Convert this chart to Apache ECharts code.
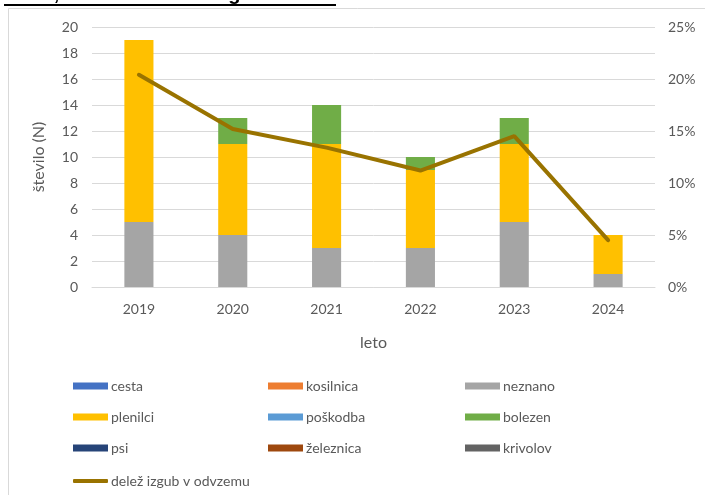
<!DOCTYPE html>
<html>
<head>
<meta charset="utf-8">
<script src="https://cdn.jsdelivr.net/npm/echarts@6/dist/echarts.min.js"></script>
<style>
html,body{margin:0;padding:0;background:#fff;}
#c{width:705px;height:495px;}
</style>
</head>
<body>
<div id="c"></div>
<script>
const years = ['2019','2020','2021','2022','2023','2024'];
const cesta     = [0,0,0,0,0,0];
const kosilnica = [0,0,0,0,0,0];
const neznano   = [5,4,3,3,5,1];
const plenilci  = [14,7,8,6,6,3];
const poskodba  = [0,0,0,0,0,0];
const bolezen   = [0,2,3,1,2,0];
const psi       = [0,0,0,0,0,0];
const zeleznica = [0,0,0,0,0,0];
const krivolov  = [0,0,0,0,0,0];
const delez     = [0.204,0.152,0.134,0.112,0.145,0.045];
const titleText = 'Vidra, delež in število izgub';

const FONT = 'Lato';
const TXT = '#595959';

const barDefs = [
  ['cesta', cesta, '#4472C4'],
  ['kosilnica', kosilnica, '#ED7D31'],
  ['neznano', neznano, '#A5A5A5'],
  ['plenilci', plenilci, '#FFC000'],
  ['poškodba', poskodba, '#5B9BD5'],
  ['bolezen', bolezen, '#70AD47'],
  ['psi', psi, '#264478'],
  ['železnica', zeleznica, '#9E480E'],
  ['krivolov', krivolov, '#636363']
];

const series = barDefs.map(([name, data, color]) => ({
  name, type: 'bar', stack: 'all', data, barWidth: '31%',
  itemStyle: {color}, emphasis: {disabled: true}
}));
series.push({
  name: 'delež izgub v odvzemu', type: 'line', yAxisIndex: 1, data: delez,
  symbol: 'none', lineStyle: {color: '#997300', width: 4, cap: 'round'}, itemStyle: {color: '#997300'}
});

const legendBase = {
  orient: 'vertical', itemWidth: 35, itemHeight: 7, itemGap: 17, icon: 'rect',
  textStyle: {color: TXT, fontFamily: FONT, fontSize: 14, padding: [0,0,0,-2]},
  selectedMode: false
};

const chart = echarts.init(document.getElementById('c'));
chart.setOption({
  animation: false,
  graphic: [
    {type: 'rect', shape: {x: 8.5, y: 8.5, width: 720, height: 520}, style: {fill: 'none', stroke: '#d9d9d9', lineWidth: 1}, z: -1},
    {type: 'text', left: 4, top: -15.5, style: {text: titleText, font: 'bold 20px "Liberation Sans"', fill: '#000'}},
    {type: 'line', shape: {x1: 4, y1: 5, x2: 336, y2: 5}, style: {stroke: '#000', lineWidth: 2}}
  ],
  grid: {left: 92, right: 50, top: 27, bottom: 208},
  legend: [
    Object.assign({left: 68, top: 374, data: ['cesta', 'plenilci', 'psi']}, legendBase),
    Object.assign({left: 263, top: 374, data: ['kosilnica', 'poškodba', 'železnica']}, legendBase),
    Object.assign({left: 460, top: 374, data: ['neznano', 'bolezen', 'krivolov']}, legendBase),
    Object.assign({}, legendBase, {left: 68, top: 469, itemHeight: 4, icon: 'roundRect', data: ['delež izgub v odvzemu']})
  ],
  xAxis: {
    type: 'category', data: years,
    name: 'leto', nameLocation: 'middle', nameGap: 48,
    nameTextStyle: {color: TXT, fontFamily: FONT, fontSize: 16},
    axisLine: {lineStyle: {color: '#d9d9d9'}}, axisTick: {show: false},
    axisLabel: {color: TXT, fontFamily: FONT, fontSize: 14, margin: 15}
  },
  yAxis: [
    {
      type: 'value', min: 0, max: 20, interval: 2,
      name: 'število (N)', nameLocation: 'middle', nameGap: 45,
      nameTextStyle: {color: TXT, fontFamily: FONT, fontSize: 16},
      axisLabel: {color: TXT, fontFamily: FONT, fontSize: 14, margin: 14},
      splitLine: {lineStyle: {color: '#d9d9d9', width: 1}},
      axisLine: {show: false}, axisTick: {show: false}
    },
    {
      type: 'value', min: 0, max: 0.25, interval: 0.05, position: 'right',
      axisLabel: {color: TXT, fontFamily: FONT, fontSize: 14, margin: 13,
        formatter: v => Math.round(v * 100) + '%'},
      splitLine: {show: false}, axisLine: {show: false}, axisTick: {show: false}
    }
  ],
  series
});
</script>
</body>
</html>
